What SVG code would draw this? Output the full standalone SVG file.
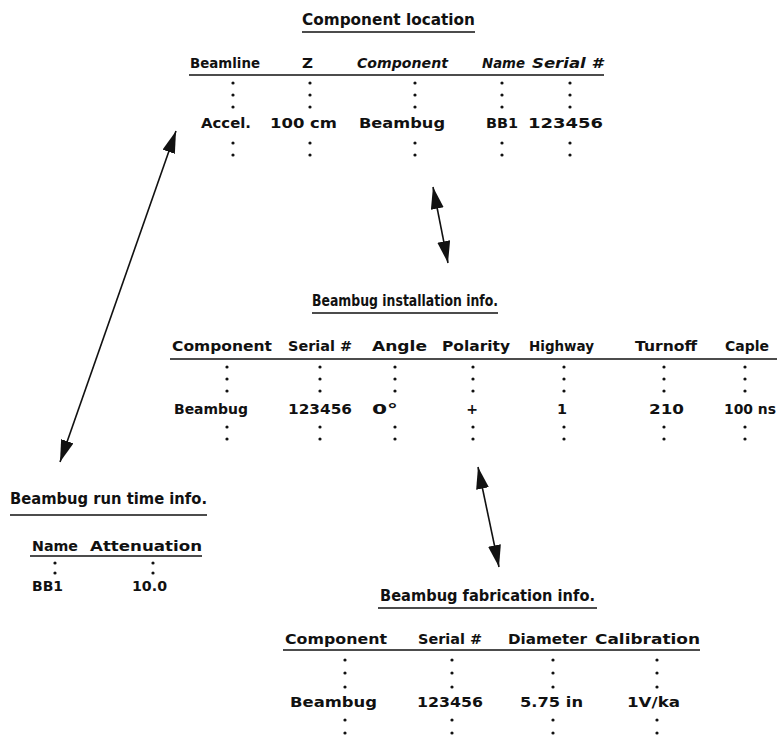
<svg xmlns="http://www.w3.org/2000/svg" width="777" height="740" viewBox="0 0 777 740">
<style>
.t{font-family:"DejaVu Sans","Liberation Sans",sans-serif;font-weight:bold;font-size:14px;fill:#111}
.ti{font-size:15px}
.it{font-style:italic}
.ul{stroke:#111;stroke-width:1.3;fill:none}
.dot{fill:#111}
.con{stroke:#111;stroke-width:1.6;fill:none;marker-start:url(#ah);marker-end:url(#ah)}
</style>
<defs>
<marker id="ah" markerUnits="userSpaceOnUse" markerWidth="22" markerHeight="14" refX="22" refY="6.5" orient="auto-start-reverse">
<path d="M0,0 L22,6.5 L0,13 Z" fill="#111"/>
</marker>
</defs>
<rect width="777" height="740" fill="#fff"/>

<g id="component-location">
<text class="t ti" x="302" y="25" textLength="173" lengthAdjust="spacingAndGlyphs">Component location</text>
<line class="ul" x1="302" y1="32" x2="475" y2="32"/>
<text class="t" x="190" y="68" textLength="70" lengthAdjust="spacingAndGlyphs">Beamline</text>
<text class="t" x="302" y="68" textLength="11" lengthAdjust="spacingAndGlyphs">Z</text>
<text class="t it" x="357" y="68" textLength="91" lengthAdjust="spacingAndGlyphs">Component</text>
<text class="t it" x="482" y="68" textLength="43" lengthAdjust="spacingAndGlyphs">Name</text>
<text class="t it" x="532" y="68" textLength="71" lengthAdjust="spacingAndGlyphs">Serial #</text>
<line class="ul" x1="189" y1="75" x2="604" y2="75"/>
<g class="dot">
<circle cx="233" cy="83" r="1.6"/><circle cx="233" cy="95" r="1.6"/><circle cx="233" cy="107" r="1.6"/><circle cx="233" cy="143" r="1.6"/><circle cx="233" cy="155" r="1.6"/>
<circle cx="310" cy="83" r="1.6"/><circle cx="310" cy="95" r="1.6"/><circle cx="310" cy="107" r="1.6"/><circle cx="310" cy="143" r="1.6"/><circle cx="310" cy="155" r="1.6"/>
<circle cx="415" cy="83" r="1.6"/><circle cx="415" cy="95" r="1.6"/><circle cx="415" cy="107" r="1.6"/><circle cx="415" cy="143" r="1.6"/><circle cx="415" cy="155" r="1.6"/>
<circle cx="502" cy="83" r="1.6"/><circle cx="502" cy="95" r="1.6"/><circle cx="502" cy="107" r="1.6"/><circle cx="502" cy="143" r="1.6"/><circle cx="502" cy="155" r="1.6"/>
<circle cx="570" cy="83" r="1.6"/><circle cx="570" cy="95" r="1.6"/><circle cx="570" cy="107" r="1.6"/><circle cx="570" cy="143" r="1.6"/><circle cx="570" cy="155" r="1.6"/>
</g>
<text class="t" x="201" y="128" textLength="50" lengthAdjust="spacingAndGlyphs">Accel.</text>
<text class="t" x="270" y="128" textLength="67" lengthAdjust="spacingAndGlyphs">100 cm</text>
<text class="t" x="359" y="128" textLength="86" lengthAdjust="spacingAndGlyphs">Beambug</text>
<text class="t" x="486" y="128" textLength="32" lengthAdjust="spacingAndGlyphs">BB1</text>
<text class="t" x="528" y="128" textLength="75" lengthAdjust="spacingAndGlyphs">123456</text>
</g>

<g id="installation-info">
<text class="t ti" x="312" y="306" textLength="186" lengthAdjust="spacingAndGlyphs">Beambug installation info.</text>
<line class="ul" x1="312" y1="313" x2="498" y2="313"/>
<text class="t" x="172" y="351" textLength="100" lengthAdjust="spacingAndGlyphs">Component</text>
<text class="t" x="288" y="351" textLength="64" lengthAdjust="spacingAndGlyphs">Serial #</text>
<text class="t" x="372" y="351" textLength="55" lengthAdjust="spacingAndGlyphs">Angle</text>
<text class="t" x="442" y="351" textLength="68" lengthAdjust="spacingAndGlyphs">Polarity</text>
<text class="t" x="529" y="351" textLength="65" lengthAdjust="spacingAndGlyphs">Highway</text>
<text class="t" x="635" y="351" textLength="62" lengthAdjust="spacingAndGlyphs">Turnoff</text>
<text class="t" x="725" y="351" textLength="44" lengthAdjust="spacingAndGlyphs">Caple</text>
<line class="ul" x1="170" y1="359" x2="777" y2="359"/>
<g class="dot">
<circle cx="227" cy="367" r="1.6"/><circle cx="227" cy="379" r="1.6"/><circle cx="227" cy="391" r="1.6"/><circle cx="227" cy="427" r="1.6"/><circle cx="227" cy="439" r="1.6"/>
<circle cx="320" cy="367" r="1.6"/><circle cx="320" cy="379" r="1.6"/><circle cx="320" cy="391" r="1.6"/><circle cx="320" cy="427" r="1.6"/><circle cx="320" cy="439" r="1.6"/>
<circle cx="395" cy="367" r="1.6"/><circle cx="395" cy="379" r="1.6"/><circle cx="395" cy="391" r="1.6"/><circle cx="395" cy="427" r="1.6"/><circle cx="395" cy="439" r="1.6"/>
<circle cx="473" cy="367" r="1.6"/><circle cx="473" cy="379" r="1.6"/><circle cx="473" cy="391" r="1.6"/><circle cx="473" cy="427" r="1.6"/><circle cx="473" cy="439" r="1.6"/>
<circle cx="564" cy="367" r="1.6"/><circle cx="564" cy="379" r="1.6"/><circle cx="564" cy="391" r="1.6"/><circle cx="564" cy="427" r="1.6"/><circle cx="564" cy="439" r="1.6"/>
<circle cx="664" cy="367" r="1.6"/><circle cx="664" cy="379" r="1.6"/><circle cx="664" cy="391" r="1.6"/><circle cx="664" cy="427" r="1.6"/><circle cx="664" cy="439" r="1.6"/>
<circle cx="745" cy="367" r="1.6"/><circle cx="745" cy="379" r="1.6"/><circle cx="745" cy="391" r="1.6"/><circle cx="745" cy="427" r="1.6"/><circle cx="745" cy="439" r="1.6"/>
</g>
<text class="t" x="174" y="414" textLength="74" lengthAdjust="spacingAndGlyphs">Beambug</text>
<text class="t" x="288" y="414" textLength="64" lengthAdjust="spacingAndGlyphs">123456</text>
<text class="t" x="372" y="414" textLength="26" lengthAdjust="spacingAndGlyphs">0°</text>
<text class="t" x="472" y="414" text-anchor="middle">+</text>
<text class="t" x="557" y="414" textLength="10" lengthAdjust="spacingAndGlyphs">1</text>
<text class="t" x="649" y="414" textLength="35" lengthAdjust="spacingAndGlyphs">210</text>
<text class="t" x="724" y="414" textLength="52" lengthAdjust="spacingAndGlyphs">100 ns</text>
</g>

<g id="runtime-info">
<text class="t ti" x="10" y="504" textLength="197" lengthAdjust="spacingAndGlyphs">Beambug run time info.</text>
<line class="ul" x1="10" y1="515" x2="207" y2="515"/>
<text class="t" x="32" y="551" textLength="46" lengthAdjust="spacingAndGlyphs">Name</text>
<text class="t" x="90" y="551" textLength="112" lengthAdjust="spacingAndGlyphs">Attenuation</text>
<line class="ul" x1="30" y1="556" x2="202" y2="556"/>
<g class="dot">
<circle cx="55" cy="563" r="1.6"/><circle cx="55" cy="573" r="1.6"/>
<circle cx="153" cy="563" r="1.6"/><circle cx="153" cy="573" r="1.6"/>
</g>
<text class="t" x="32" y="591" textLength="31" lengthAdjust="spacingAndGlyphs">BB1</text>
<text class="t" x="132" y="591" textLength="35" lengthAdjust="spacingAndGlyphs">10.0</text>
</g>

<g id="fabrication-info">
<text class="t ti" x="380" y="601" textLength="215" lengthAdjust="spacingAndGlyphs">Beambug fabrication info.</text>
<line class="ul" x1="378" y1="608" x2="597" y2="608"/>
<text class="t" x="285" y="644" textLength="102" lengthAdjust="spacingAndGlyphs">Component</text>
<text class="t" x="418" y="644" textLength="64" lengthAdjust="spacingAndGlyphs">Serial #</text>
<text class="t" x="508" y="644" textLength="79" lengthAdjust="spacingAndGlyphs">Diameter</text>
<text class="t" x="595" y="644" textLength="105" lengthAdjust="spacingAndGlyphs">Calibration</text>
<line class="ul" x1="283" y1="650" x2="700" y2="650"/>
<g class="dot">
<circle cx="345" cy="660" r="1.6"/><circle cx="345" cy="673" r="1.6"/><circle cx="345" cy="687" r="1.6"/><circle cx="345" cy="720" r="1.6"/><circle cx="345" cy="733" r="1.6"/>
<circle cx="452" cy="660" r="1.6"/><circle cx="452" cy="673" r="1.6"/><circle cx="452" cy="687" r="1.6"/><circle cx="452" cy="720" r="1.6"/><circle cx="452" cy="733" r="1.6"/>
<circle cx="553" cy="660" r="1.6"/><circle cx="553" cy="673" r="1.6"/><circle cx="553" cy="687" r="1.6"/><circle cx="553" cy="720" r="1.6"/><circle cx="553" cy="733" r="1.6"/>
<circle cx="657" cy="660" r="1.6"/><circle cx="657" cy="673" r="1.6"/><circle cx="657" cy="687" r="1.6"/><circle cx="657" cy="720" r="1.6"/><circle cx="657" cy="733" r="1.6"/>
</g>
<text class="t" x="290" y="707" textLength="87" lengthAdjust="spacingAndGlyphs">Beambug</text>
<text class="t" x="417" y="707" textLength="66" lengthAdjust="spacingAndGlyphs">123456</text>
<text class="t" x="520" y="707" textLength="63" lengthAdjust="spacingAndGlyphs">5.75 in</text>
<text class="t" x="627" y="707" textLength="53" lengthAdjust="spacingAndGlyphs">1V/ka</text>
</g>

<g id="connectors">
<line class="con" x1="176" y1="131" x2="60" y2="462"/>
<line class="con" x1="433" y1="187" x2="448" y2="263"/>
<line class="con" x1="478" y1="467" x2="499" y2="567"/>
</g>
</svg>
